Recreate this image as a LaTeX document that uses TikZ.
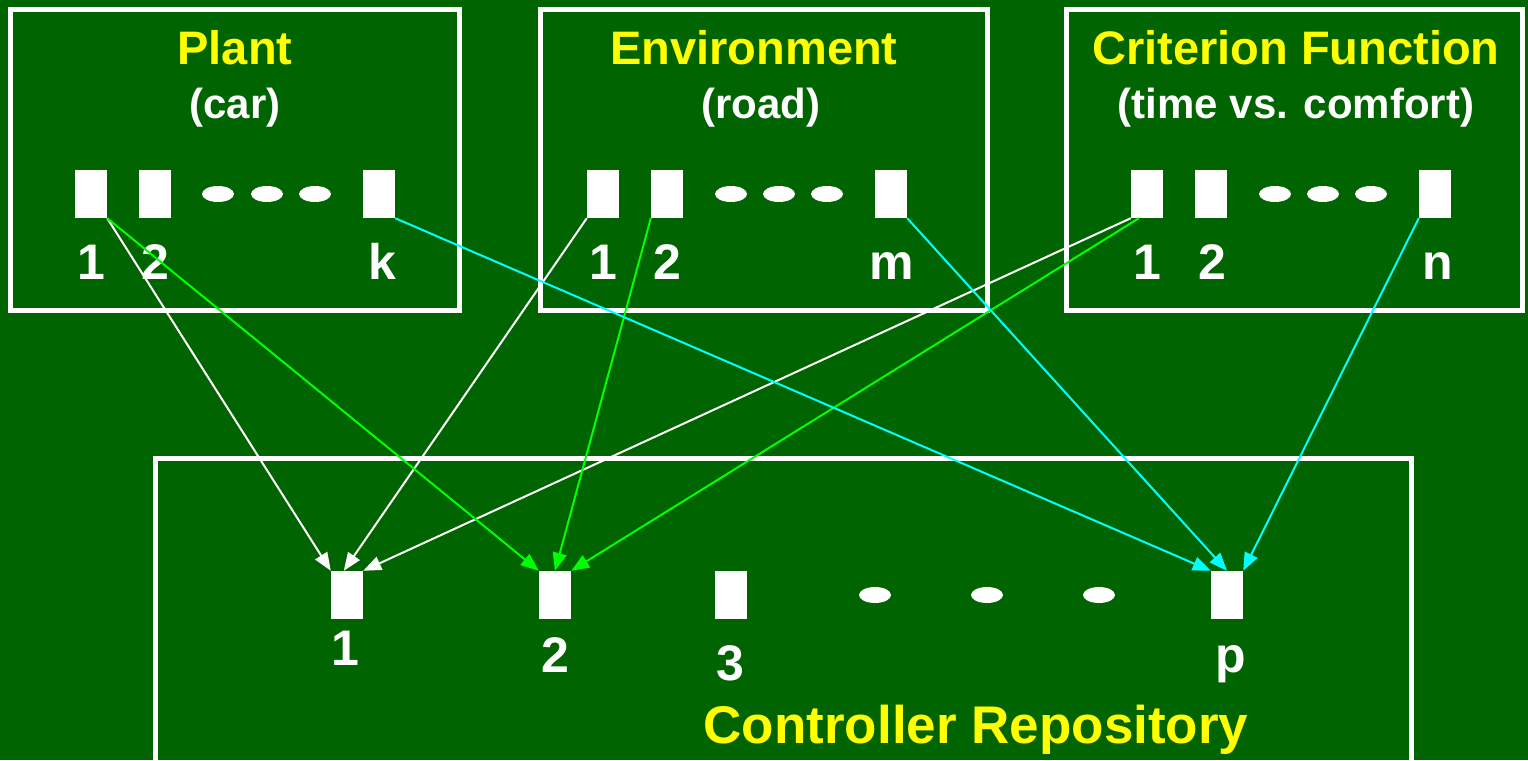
\documentclass[tikz,border=0pt]{standalone}
\usepackage{fontspec}
\setmainfont{Liberation Sans}
\usetikzlibrary{arrows.meta,shapes.geometric,calc}
\definecolor{bg}{RGB}{0,100,0}
\definecolor{ylw}{RGB}{255,255,0}
\definecolor{grn}{RGB}{0,255,0}
\definecolor{cyn}{RGB}{0,255,255}
\begin{document}
\begin{tikzpicture}[x=1pt,y=-1pt,
  frame/.style={draw=white,line width=5pt},
  slot/.style={rectangle,fill=white,inner sep=0pt,minimum width=32pt,minimum height=48pt},
  dot/.style={ellipse,fill=white,inner sep=0pt,minimum width=32pt,minimum height=16pt},
  title/.style={text=ylw,font=\fontsize{47}{50}\selectfont\bfseries,anchor=base,inner sep=0pt},
  sub/.style={text=white,font=\fontsize{42}{45}\selectfont\bfseries,anchor=base,inner sep=0pt},
  num/.style={text=white,font=\fontsize{50}{52}\selectfont\bfseries,anchor=base,inner sep=0pt},
  link/.style={line width=2pt,-{Triangle[length=18pt,width=14pt]}}]
\useasboundingbox (0,0) rectangle (1528,760);
\fill[bg] (0,0) rectangle (1528,760);
% frames
\draw[frame] (10.5,10) rectangle (459.5,310);
\draw[frame] (540,10) rectangle (987,310);
\draw[frame] (1066,10) rectangle (1522,310);
\draw[frame] (155,458) rectangle (1411,765);
% titles
\node[title] (tp) at (235,65) {Plant};
\node[sub] (sp) at (235,118) {(car)};
\node[title] (te) at (754,64) {Environment};
\node[sub] (se) at (761,118) {(road)};
\node[title] (tc) at (1296,65) {Criterion Function};
\node[sub] (sc) at (1296,118) {(time vs. comfort)};
\node[title,font=\fontsize{53}{56}\selectfont\bfseries] (tk) at (976,743) {Controller Repository};
% plant
\node[slot] (p1) at (91,194) {};
\node[slot] (p2) at (155,194) {};
\node[dot] (pd1) at (218,194) {};
\node[dot] (pd2) at (267,194) {};
\node[dot] (pd3) at (315,194) {};
\node[slot] (pk) at (379,194) {};
\node[num] (lp1) at (91,279) {1};
\node[num] (lp2) at (155,279) {2};
\node[num] (lpk) at (382,279) {k};
% environment
\node[slot] (e1) at (603,194) {};
\node[slot] (e2) at (667,194) {};
\node[dot] (ed1) at (731,194) {};
\node[dot] (ed2) at (779,194) {};
\node[dot] (ed3) at (827,194) {};
\node[slot] (em) at (891,194) {};
\node[num] (le1) at (603,279) {1};
\node[num] (le2) at (667,279) {2};
\node[num] (lem) at (892,279) {m};
% criterion
\node[slot] (c1) at (1147,194) {};
\node[slot] (c2) at (1211,194) {};
\node[dot] (cd1) at (1275,194) {};
\node[dot] (cd2) at (1323,194) {};
\node[dot] (cd3) at (1371,194) {};
\node[slot] (cn) at (1435,194) {};
\node[num] (lc1) at (1147,279) {1};
\node[num] (lc2) at (1212,279) {2};
\node[num] (lcn) at (1438,279) {n};
% controller repository
\node[slot] (k1) at (347,595) {};
\node[slot] (k2) at (555,595) {};
\node[slot] (k3) at (731,595) {};
\node[dot] (kd1) at (875,595) {};
\node[dot] (kd2) at (987,595) {};
\node[dot] (kd3) at (1099,595) {};
\node[slot] (kp) at (1227,595) {};
\node[num] (lk1) at (345,665) {1};
\node[num] (lk2) at (555,672) {2};
\node[num] (lk3) at (730,680) {3};
\node[num] (lkp) at (1231,672) {p};
% connectors
\draw[link,white] (p1.south east) -- (k1.north west);
\draw[link,white] (e1.south west) -- ($(k1.north west)!0.4!(k1.north east)$);
\draw[link,white] (c1.south west) -- (k1.north east);
\draw[link,grn] (p1.south east) -- (k2.north west);
\draw[link,grn] (e2.south west) -- (k2.north);
\draw[link,grn] ($(c1.south west)!0.25!(c1.south east)$) -- (k2.north east);
\draw[link,cyn] (pk.south east) -- (kp.north west);
\draw[link,cyn] (em.south east) -- (kp.north);
\draw[link,cyn] (cn.south west) -- (kp.north east);
\end{tikzpicture}
\end{document}
